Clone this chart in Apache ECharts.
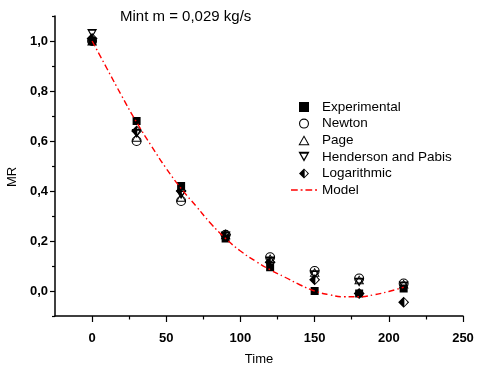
<!DOCTYPE html>
<html>
<head>
<meta charset="utf-8">
<script src="https://cdn.jsdelivr.net/npm/echarts@6/dist/echarts.min.js"></script>
<style>
  html, body { margin: 0; padding: 0; background: #fff; }
  #chart { width: 480px; height: 370px; }
</style>
</head>
<body>
<div id="chart"></div>
<script>
// time points (min)
const time = [0, 30, 60, 90, 120, 150, 180, 210]
// moisture ratio
const experimental = [1.00, 0.68, 0.42, 0.21, 0.095, 0.00, -0.01, 0.01]
const newton = [1.00, 0.60, 0.36, 0.225, 0.135, 0.08, 0.05, 0.03]
const page = [1.00, 0.615, 0.375, 0.225, 0.13, 0.075, 0.045, 0.028]
const henderson = [1.03, 0.63, 0.385, 0.22, 0.12, 0.065, 0.035, 0.02]
const logarithmic = [1.01, 0.64, 0.40, 0.225, 0.115, 0.045, -0.01, -0.045]
// model curve
const modelTime = [0, 10, 20, 30, 40, 50, 60, 70, 80, 90, 100, 110, 120, 130, 140, 150, 160, 170, 180, 190, 200, 210]
const modelMR = [1.00, 0.89, 0.78, 0.675, 0.58, 0.49, 0.41, 0.34, 0.27, 0.21, 0.16, 0.12, 0.085, 0.055, 0.025, 0.00, -0.015, -0.023, -0.023, -0.015, -0.002, 0.015]
// ticks
const xMajor = [0, 50, 100, 150, 200, 250]
const xMinor = [25, 75, 125, 175, 225]
const yMajor = [0, 0.2, 0.4, 0.6, 0.8, 1.0]
const yMinor = [-0.1, 0.1, 0.3, 0.5, 0.7, 0.9, 1.1]

const font = 'Liberation Sans, Arial, sans-serif'
const square = 'path://M0 0H10V10H0Z'
const ringCircle = 'path://M10 0A10 10 0 1 1 10 20A10 10 0 1 1 10 0ZM10 2.2A7.8 7.8 0 1 0 10 17.8A7.8 7.8 0 1 0 10 2.2Z'
const ringTriUp = 'path://M10 0L20 18L0 18ZM10 3.7L3.06 16.2L16.94 16.2Z'
const ringTriDown = 'path://M0 0L20 0L10 18ZM4.5 3.4L10 12.8L15.5 3.4Z'
const halfDiamond = 'path://M10 0L0 10L10 20ZM10 0L20 10L10 20ZM11.3 16.8L17.2 10L11.3 3.2Z'
const dashDot = 'path://M0 0H7V1.6H0ZM10 0H12V1.6H10ZM15 0H22V1.6H15ZM25 0H27V1.6H25Z'

function pairs(ys) {
  return time.map((t, i) => [t, ys[i]])
}

function scatter(name, data, symbol, size) {
  return {
    name: name,
    type: 'scatter',
    data: pairs(data),
    symbol: symbol,
    symbolSize: size,
    itemStyle: { color: '#000', opacity: 1 },
    emphasis: { disabled: true }
  }
}

const axisFont = { color: '#000', fontFamily: font, fontSize: 13, fontWeight: 'bold' }
const minorAxis = {
  type: 'value',
  axisLine: { show: false, onZero: false },
  axisLabel: { show: false },
  splitLine: { show: false }
}

const chart = echarts.init(document.getElementById('chart'))
chart.setOption({
  animation: false,
  title: {
    text: 'Mint m = 0,029 kg/s',
    left: 120,
    top: 9,
    padding: 0,
    textStyle: { color: '#000', fontFamily: font, fontSize: 15, fontWeight: 'normal' }
  },
  legend: {
    orient: 'vertical',
    left: 291,
    top: 100,
    padding: 0,
    itemWidth: 26,
    itemHeight: 10,
    itemGap: 2.6,
    selectedMode: false,
    textStyle: { color: '#000', fontFamily: font, fontSize: 13.5 },
    data: [
      'Experimental', 'Newton', 'Page', 'Henderson and Pabis', 'Logarithmic',
      { name: 'Model', icon: dashDot, itemStyle: { color: '#ff0000' } }
    ]
  },
  grid: { left: 55, right: 17, top: 16, bottom: 54, containLabel: false, outerBoundsMode: 'none' },
  xAxis: [
    {
      type: 'value',
      min: -25,
      max: 250,
      name: 'Time',
      nameLocation: 'middle',
      nameGap: 37,
      nameTextStyle: { color: '#000', fontFamily: font, fontSize: 13 },
      axisLine: { show: true, onZero: false, lineStyle: { color: '#000', width: 1.5 } },
      axisTick: { show: true, length: 6, customValues: xMajor, lineStyle: { color: '#000', width: 1.2 } },
      axisLabel: { margin: 16, customValues: xMajor, ...axisFont },
      splitLine: { show: false }
    },
    {
      ...minorAxis,
      min: -25,
      max: 250,
      position: 'bottom',
      axisTick: { show: true, length: 3.5, customValues: xMinor, lineStyle: { color: '#000', width: 1.2 } }
    }
  ],
  yAxis: [
    {
      type: 'value',
      min: -0.1,
      max: 1.1,
      name: 'MR',
      nameLocation: 'middle',
      nameGap: 35,
      nameTextStyle: { color: '#000', fontFamily: font, fontSize: 13, padding: [0, 22, 0, 0] },
      axisLine: { show: true, onZero: false, lineStyle: { color: '#000', width: 1.5 } },
      axisTick: { show: true, length: 5, customValues: yMajor, lineStyle: { color: '#000', width: 1.2 } },
      axisLabel: {
        margin: 7,
        customValues: yMajor,
        formatter: v => v.toFixed(1).replace('.', ','),
        ...axisFont
      },
      splitLine: { show: false }
    },
    {
      ...minorAxis,
      min: -0.1,
      max: 1.1,
      position: 'left',
      axisTick: { show: true, length: 3, customValues: yMinor, lineStyle: { color: '#000', width: 1.2 } }
    }
  ],
  series: [
    scatter('Experimental', experimental, square, 8),
    scatter('Newton', newton, ringCircle, 10),
    scatter('Page', page, ringTriUp, [10, 9]),
    scatter('Henderson and Pabis', henderson, ringTriDown, [10, 9]),
    scatter('Logarithmic', logarithmic, halfDiamond, 11),
    {
      name: 'Model',
      type: 'line',
      data: modelTime.map((t, i) => [t, modelMR[i]]),
      smooth: true,
      symbol: 'none',
      z: 3,
      lineStyle: { color: '#ff0000', width: 1.4, type: [6, 3, 1.5, 3] },
      itemStyle: { color: '#ff0000' },
      emphasis: { disabled: true }
    }
  ]
})
</script>
</body>
</html>
